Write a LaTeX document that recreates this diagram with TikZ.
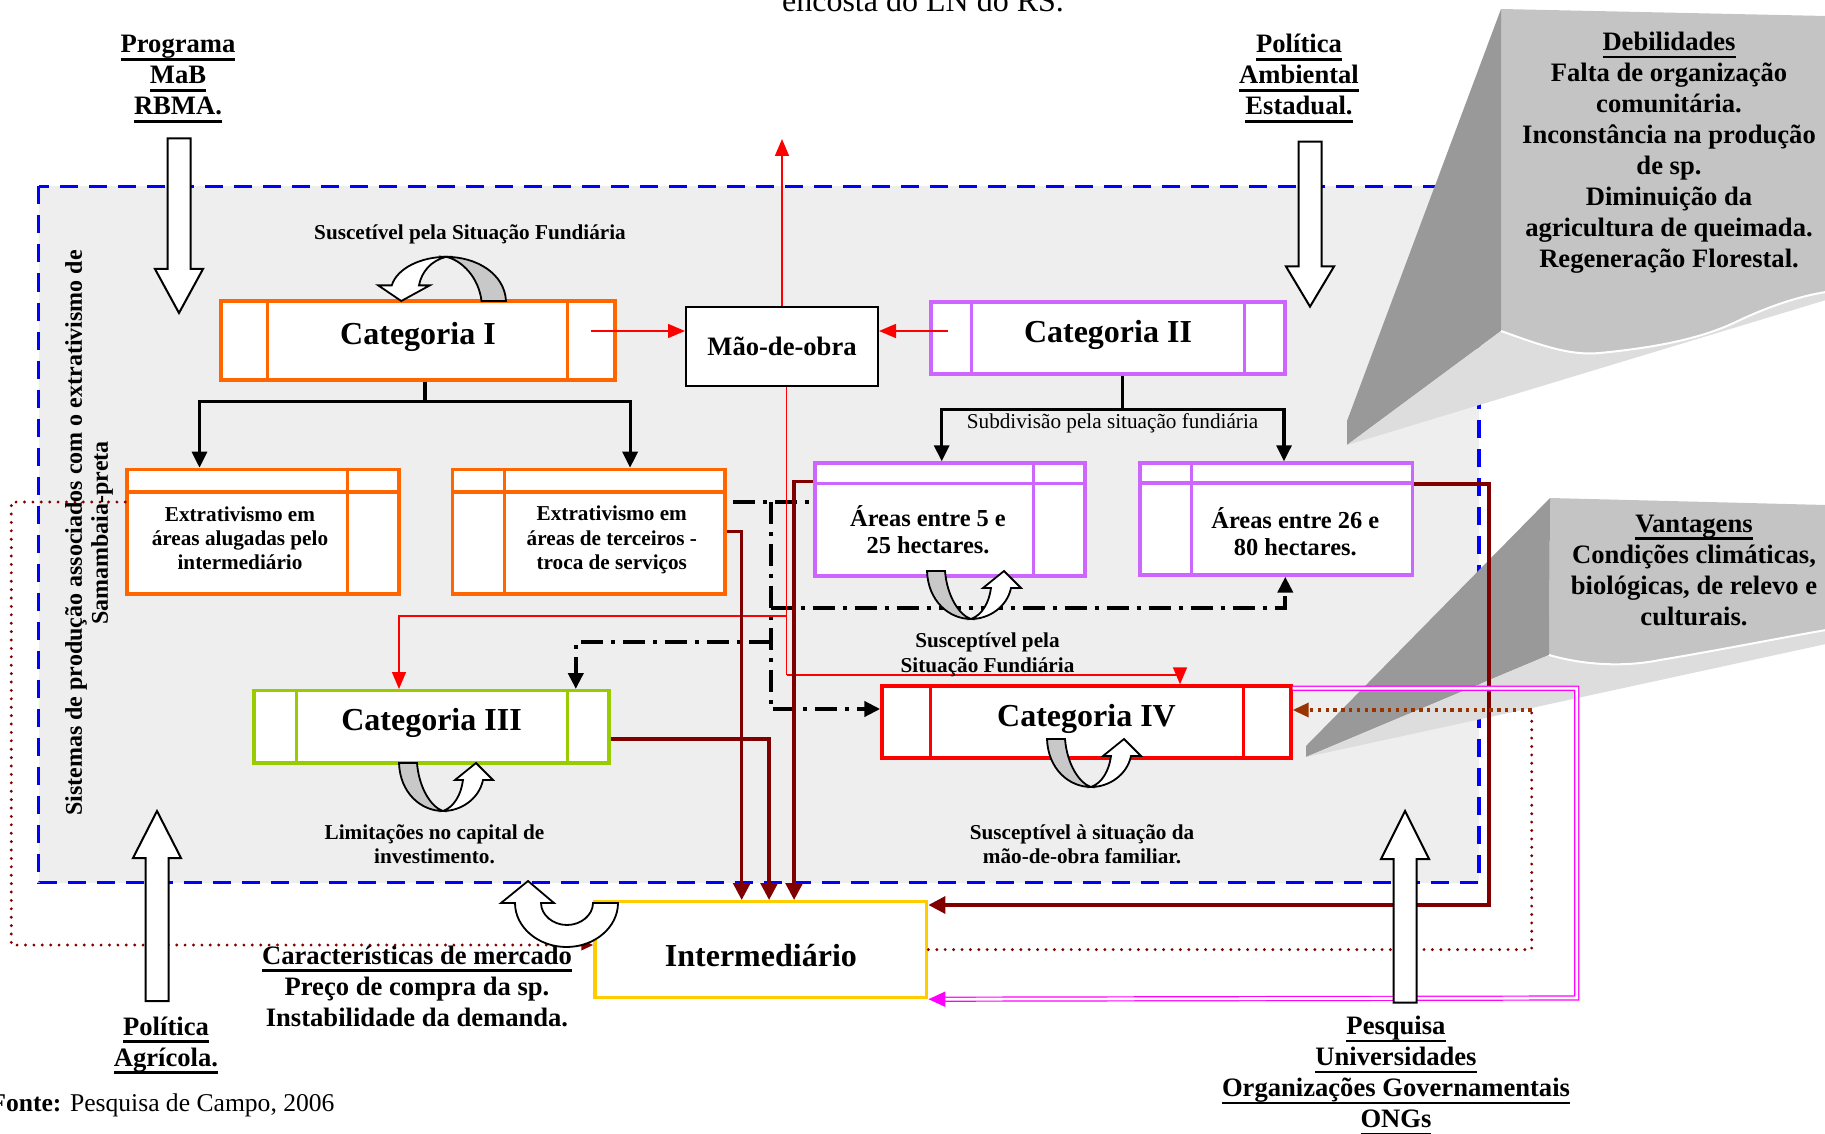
\documentclass[tikz,border=0pt]{standalone}
\usepackage{fontspec}
\setmainfont{Liberation Serif}
\usetikzlibrary{arrows.meta,calc}

\definecolor{catorange}{RGB}{255,102,0}
\definecolor{catviolet}{RGB}{204,102,255}
\definecolor{catgreen}{RGB}{153,204,0}
\definecolor{catred}{RGB}{255,0,0}
\definecolor{frameblue}{RGB}{0,0,255}
\definecolor{maroon}{RGB}{128,0,0}
\definecolor{rust}{RGB}{153,51,0}
\definecolor{gold}{RGB}{255,204,0}
\definecolor{pink}{RGB}{255,0,255}
\definecolor{calloutface}{RGB}{196,196,196}
\definecolor{calloutside}{RGB}{153,153,153}
\definecolor{calloutbase}{RGB}{221,221,221}
\definecolor{zonefill}{RGB}{238,238,238}
\definecolor{turngray}{RGB}{200,200,200}

% thick underline at a fixed depth
\newsavebox{\ulbox}
\newcommand{\ulc}[1]{\sbox{\ulbox}{#1}\rlap{\rule[-3.8pt]{\wd\ulbox}{1.3pt}}\usebox{\ulbox}}

\newcommand{\catfont}{\bfseries\fontsize{16}{19}\selectfont}
\newcommand{\midfont}{\bfseries\fontsize{13.3}{15.5}\selectfont}
\newcommand{\areafont}{\bfseries\fontsize{12.2}{13.7}\selectfont}
\newcommand{\lblfont}{\bfseries\fontsize{10.6}{12.2}\selectfont}

\tikzset{
  zoneframe/.style={draw=frameblue, fill=zonefill, line width=1.6pt, dash pattern=on 9pt off 5.5pt},
  catbox/.style={draw=#1, line width=1.7pt, fill=white, inner sep=0pt, font=\catfont, text height=11pt, text depth=7pt},
  tablebox/.style={draw=#1, line width=1.7pt, fill=white, inner sep=0pt},
  tablerule/.style={draw=#1, line width=1.7pt},
  tabletext/.style={font=\lblfont, align=center, inner sep=0pt},
  areatext/.style={font=\areafont, align=center, inner sep=0pt},
  lbl/.style={font=\lblfont, align=center, inner sep=0pt, anchor=base},
  heading/.style={font=\midfont, align=center, inner sep=0pt, anchor=base},
  redline/.style={draw=catred, line width=0.8pt},
  redarr/.style={redline, -{Triangle[length=8.5pt,width=7pt]}},
  maroonarr/.style={draw=maroon, line width=1.7pt, -{Triangle[length=8.5pt,width=8.5pt]}},
  stemline/.style={draw=black, line width=1.6pt},
  stemarr/.style={stemline, -{Triangle[length=8pt,width=7.5pt]}},
  dashdotline/.style={draw=black, line width=2pt, dash pattern=on 11pt off 4pt on 2pt off 4pt},
  dashdotarr/.style={dashdotline, -{Triangle[length=8pt,width=7.5pt]}},
  dotmaroon/.style={draw=maroon, line width=1.6pt, line cap=round, dash pattern=on 0pt off 4.2pt},
  dotrust/.style={draw=rust, line width=1.7pt, dash pattern=on 1.7pt off 2.2pt, -{Triangle[length=8pt,width=7pt]}},
  pinkdouble/.style={draw=pink, line width=0.6pt, double=white, double distance=1.4pt},
  pinkarr/.style={draw=pink, line width=1pt, -{Triangle[length=8.5pt,width=7.5pt]}},
  blockarrow/.style={draw=black, line width=1pt, fill=white},
  uturn/.style={draw=black, line width=0.9pt}
}

% hollow straight arrow: x, tail y, head base y, tip y
\newcommand{\blockarr}[4]{%
  \draw[blockarrow] (#1-11.5,#2) -- (#1+11.5,#2) -- (#1+11.5,#3) -- (#1+24,#3) -- (#1,#4) -- (#1-24,#3) -- (#1-11.5,#3) -- cycle;}

% twisted turning arrow, local frame at the tail
\newcommand{\twistarr}[1]{%
  \begin{scope}[#1]
    \draw[uturn, fill=turngray] (0,0) -- (18,0) .. controls (20,25) and (32,44) .. (44,48) .. controls (22,48) and (1,30) .. (0,0) -- cycle;
    \draw[uturn, fill=white] (44,48) .. controls (62,48) and (80,36) .. (84,17) -- (94,17) -- (77,0) -- (56,17) -- (64,17) .. controls (62,32) and (55,44) .. (44,48) -- cycle;
  \end{scope}}

\begin{document}
\begin{tikzpicture}[x=0.5pt,y=-0.5pt]
\useasboundingbox (0,0) rectangle (1825,1134);
% Zone of the production systems
\draw[zoneframe] (38.5,186.5) rectangle (1479,882.5);
% Callout "Debilidades"
\fill[calloutface] (1501,9) -- (1826,16) -- (1826,292) .. controls (1800,296) and (1770,306) .. (1740,320) .. controls (1700,340) and (1650,348) .. (1600,353) .. controls (1570,356) and (1540,345) .. (1501,331) -- cycle;
\fill[calloutside] (1501,9) -- (1347,421) -- (1347,445) -- (1501,331) -- cycle;
\fill[calloutbase] (1347,445) -- (1501,331) .. controls (1540,345) and (1570,356) .. (1600,353) .. controls (1650,348) and (1700,340) .. (1740,320) .. controls (1770,306) and (1800,296) .. (1826,292) -- (1826,300) -- cycle;
\draw[white, line width=1pt] (1501,331) .. controls (1540,345) and (1570,356) .. (1600,353) .. controls (1650,348) and (1700,340) .. (1740,320) .. controls (1770,306) and (1800,296) .. (1826,292);
% Callout "Vantagens"
\fill[calloutface] (1550,498) -- (1826,505) -- (1826,630) .. controls (1780,638) and (1720,650) .. (1660,660) .. controls (1620,668) and (1580,664) .. (1549,655) -- cycle;
\fill[calloutside] (1550,498) -- (1306,746) -- (1306,757) -- (1549,655) -- cycle;
\fill[calloutbase] (1306,757) -- (1549,655) .. controls (1580,664) and (1620,668) .. (1660,660) .. controls (1720,650) and (1780,638) .. (1826,630) -- (1826,644) -- cycle;
\draw[white, line width=1pt] (1549,655) .. controls (1580,664) and (1620,668) .. (1660,660) .. controls (1720,650) and (1780,638) .. (1826,630);

% Category boxes
\node[catbox=catorange, minimum width=197pt, minimum height=39.5pt] (cat1) at (418,340.5) {Categoria I};
\node[catbox=catviolet, minimum width=177pt, minimum height=36pt] (cat2) at (1108,338) {Categoria II};
\node[catbox=catgreen, minimum width=177.5pt, minimum height=36.2pt] (cat3) at (431.5,726.9) {Categoria III};
\node[catbox=catred, minimum width=204.5pt, minimum height=36pt] (cat4) at (1086.5,722) {Categoria IV};
\foreach \b/\l/\r/\c in {cat1/48/49/catorange, cat2/42/42.5/catviolet, cat3/44/43/catgreen, cat4/50/49/catred} {
  \draw[tablerule=\c] ($(\b.north west)+(\l,0)$) -- ($(\b.south west)+(\l,0)$);
  \draw[tablerule=\c] ($(\b.north east)+(-\r,0)$) -- ($(\b.south east)+(-\r,0)$);
}
% Labour and middleman
\node[draw=black, line width=1pt, fill=white, inner sep=0pt, font=\midfont, minimum width=96pt, minimum height=39.7pt] (mao) at (782,346.3) {Mão-de-obra};
\node[draw=gold, line width=1.7pt, fill=white, inner sep=0pt, font=\catfont, text height=17pt, text depth=0pt, minimum width=165.8pt, minimum height=47.9pt] (inter) at (760.9,949.6) {Intermediário};

% Sub-boxes of Categoria I
\node[tablebox=catorange, minimum width=136pt, minimum height=62.3pt] (ext1) at (263,531.7) {};
\draw[tablerule=catorange] ($(ext1.north west)+(0,24.2)$) -- ($(ext1.north east)+(0,24.2)$);
\draw[tablerule=catorange] ($(ext1.north east)+(-53.5,0)$) -- ($(ext1.south east)+(-53.5,0)$);
\node[tabletext] (ext1txt) at ($(ext1)+(-23,6.6)$) {Extrativismo em\\áreas alugadas pelo\\intermediário};
\node[tablebox=catorange, minimum width=136.3pt, minimum height=62.3pt] (ext2) at (588.8,531.7) {};
\draw[tablerule=catorange] ($(ext2.north west)+(0,24.2)$) -- ($(ext2.north east)+(0,24.2)$);
\draw[tablerule=catorange] ($(ext2.north west)+(53.5,0)$) -- ($(ext2.south west)+(53.5,0)$);
\node[tabletext] (ext2txt) at ($(ext2)+(23,8.3)$) {Extrativismo em\\áreas de terceiros -\\troca de serviços};
% Sub-boxes of Categoria II
\node[tablebox=catviolet, minimum width=135pt, minimum height=56.5pt] (ar1) at (950,519.5) {};
\draw[tablerule=catviolet] ($(ar1.north west)+(0,22)$) -- ($(ar1.north east)+(0,22)$);
\draw[tablerule=catviolet] ($(ar1.north east)+(-53,0)$) -- ($(ar1.south east)+(-53,0)$);
\node[areatext] (ar1txt) at ($(ar1)+(-22,10.5)$) {Áreas entre 5 e\\25 hectares.};
\node[tablebox=catviolet, minimum width=136.3pt, minimum height=56pt] (ar2) at (1276.3,519) {};
\draw[tablerule=catviolet] ($(ar2.north west)+(0,21.6)$) -- ($(ar2.north east)+(0,21.6)$);
\draw[tablerule=catviolet] ($(ar2.north west)+(53,0)$) -- ($(ar2.south west)+(53,0)$);
\node[areatext] (ar2txt) at ($(ar2)+(19,13)$) {Áreas entre 26 e\\80 hectares.};

% Branches of the categories
\draw[stemline] ($(cat1.south)+(7,0)$) -- ++(0,19.6) coordinate (c1fork);
\draw[stemarr] (c1fork) -| ($(ext1.north)+(-63.5,0)$);
\draw[stemarr] (c1fork) -| ($(ext2.north)+(41.3,0)$);
\draw[stemline] ($(cat2.south)+(14.5,0)$) -- ++(0,33.5) coordinate (c2fork);
\draw[stemarr] (c2fork) -| ($(ar1.north)+(-8.3,0)$);
\draw[stemarr] (c2fork) -| ($(ar2.north)+(7.7,0)$);

% Dash-dot links
\coordinate (spinetop) at (770.7,501.7);
\coordinate (spineA) at (770.7,607.7);
\coordinate (spineB) at (770.7,642);
\draw[dashdotline] ($(ext2.east)+(6,-30)$) coordinate (ddstart) -- (ar1.west |- ddstart);
\draw[dashdotarr] (spinetop) |- ($(cat4.west)+(0,-13)$);
\draw[dashdotarr] (spineA) -| ($(ar2.south)+(9,0)$);
\draw[dashdotarr] (spineB) -| ($(cat3.north)+(144.3,0)$);

% Labour flows (red)
\coordinate (maotop) at (782,139);
\coordinate (redsplit) at (786.5,616);
\coordinate (redbend) at (786.5,675);
\draw[redarr] (mao.north) -- (maotop);
\draw[redarr] ($(cat1.east)+(-26,-9.5)$) coordinate (c1out) -- (mao.west |- c1out);
\draw[redarr] ($(cat2.west)+(19,-7)$) coordinate (c2out) -- (mao.east |- c2out);
\draw[redline] ($(mao.south)+(4.5,0)$) -- (redbend);
\draw[redarr] (redsplit) -| ($(cat3.north)+(-32.5,0)$);
\draw[redarr] (redbend) -| ($(cat4.north)+(93.5,0)$);

% Product flows to the middleman (dark red)
\draw[maroonarr] (ext2.east) -| ($(inter.north west)+(148.3,0)$);
\draw[maroonarr] ($(cat3.east)+(0,12)$) -| ($(inter.north west)+(175.7,0)$);
\draw[maroonarr] ($(ar1.west)+(0,-37.8)$) -| ($(inter.north west)+(200.7,0)$);
\draw[maroonarr] ($(ar2.east)+(0,-35.2)$) -| ($(inter.north east)+(560.6,5)$) -- ($(inter.north east)+(0,5)$);

% Dotted links
\draw[dotmaroon, -{Triangle[length=6pt,width=5pt]}] ($(ext1.west)+(0,-29.7)$) -- ++(-114,0) |- ($(inter.west)+(0,-4.6)$);
\coordinate (dotturn) at (1531.7,710);
\draw[dotmaroon] (inter.east) -| (dotturn);
\draw[dotrust] (dotturn) -- (cat4.east |- dotturn);

% Double link (magenta)
\coordinate (pinkturn) at (1576.7,998);
\draw[pinkdouble] ($(cat4.north east)+(0,4)$) -| (pinkturn) -- ($(inter.south east)+(16,0)$);
\draw[pinkarr] ($(inter.south east)+(16,0)$) -- (inter.south east);

% Turning arrows
\twistarr{shift={(506,301)}, xscale=-1.36, yscale=-0.92}
\twistarr{shift={(399,763)}}
\twistarr{shift={(927,571)}}
\twistarr{shift={(1047,739)}}
\draw[uturn, fill=white] (618,903) .. controls (618,927) and (595,947) .. (566.5,947) .. controls (538,947) and (515,927) .. (515,903) -- (501,903) -- (528,881) -- (554,903) -- (541,903) .. controls (541,915) and (553,925) .. (567,925) .. controls (581,925) and (593,915) .. (593,903) -- cycle;

% Outside influences
\blockarr{179}{138.5}{269}{313}
\blockarr{1310}{141.7}{266.5}{306.6}
\blockarr{157}{1001}{858}{811}
\blockarr{1405}{1002.7}{859}{811}

% Labels (base = last line)
\node[font=\fontsize{16}{19}\selectfont, inner sep=0pt, anchor=base] (caption) at (923,12) {encosta do LN do RS.};
\node[rotate=90, font=\bfseries\fontsize{12}{13}\selectfont, align=center, inner sep=0pt] (zonetitle) at (89,533) {Sistemas de produção associados com o extrativismo de\\Samambaia-preta};
\node[lbl] (susc1) at (470,240) {Suscetível pela Situação Fundiária};
\node[lbl, font=\fontsize{10.6}{12.2}\selectfont] (subdiv) at (1112.6,428.5) {Subdivisão pela situação fundiária};
\node[lbl] (susc2) at (987.5,672) {Susceptível pela\\Situação Fundiária};
\node[lbl] (limit) at (434.5,863.5) {Limitações no capital de\\investimento.};
\node[lbl] (susc3) at (1082,863.5) {Susceptível à situação da\\mão-de-obra familiar.};
\node[heading] (mab) at (178,115) {\ulc{Programa}\\\ulc{MaB}\\\ulc{RBMA.}};
\node[heading] (polamb) at (1299,115) {\ulc{Política}\\\ulc{Ambiental}\\\ulc{Estadual.}};
\node[heading] (polagr) at (166,1066) {\ulc{Política}\\\ulc{Agrícola.}};
\node[heading] (pesq) at (1396,1127.5) {\ulc{Pesquisa}\\\ulc{Universidades}\\\ulc{Organizações Governamentais}\\\ulc{ONGs}};
\node[heading] (merc) at (417,1026) {\ulc{Características de mercado}\\Preço de compra da sp.\\Instabilidade da demanda.};
\node[heading] (debil) at (1669,267.6) {\ulc{Debilidades}\\Falta de organização\\comunitária.\\Inconstância na produção\\de sp.\\Diminuição da\\agricultura de queimada.\\Regeneração Florestal.};
\node[heading] (vant) at (1694,625) {\ulc{Vantagens}\\Condições climáticas,\\biológicas, de relevo e\\culturais.};
\node[font=\fontsize{12.8}{15}\selectfont, inner sep=0pt, anchor=base west] (fonte) at (-10,1111) {\textbf{Fonte:} Pesquisa de Campo, 2006};
\end{tikzpicture}
\end{document}
